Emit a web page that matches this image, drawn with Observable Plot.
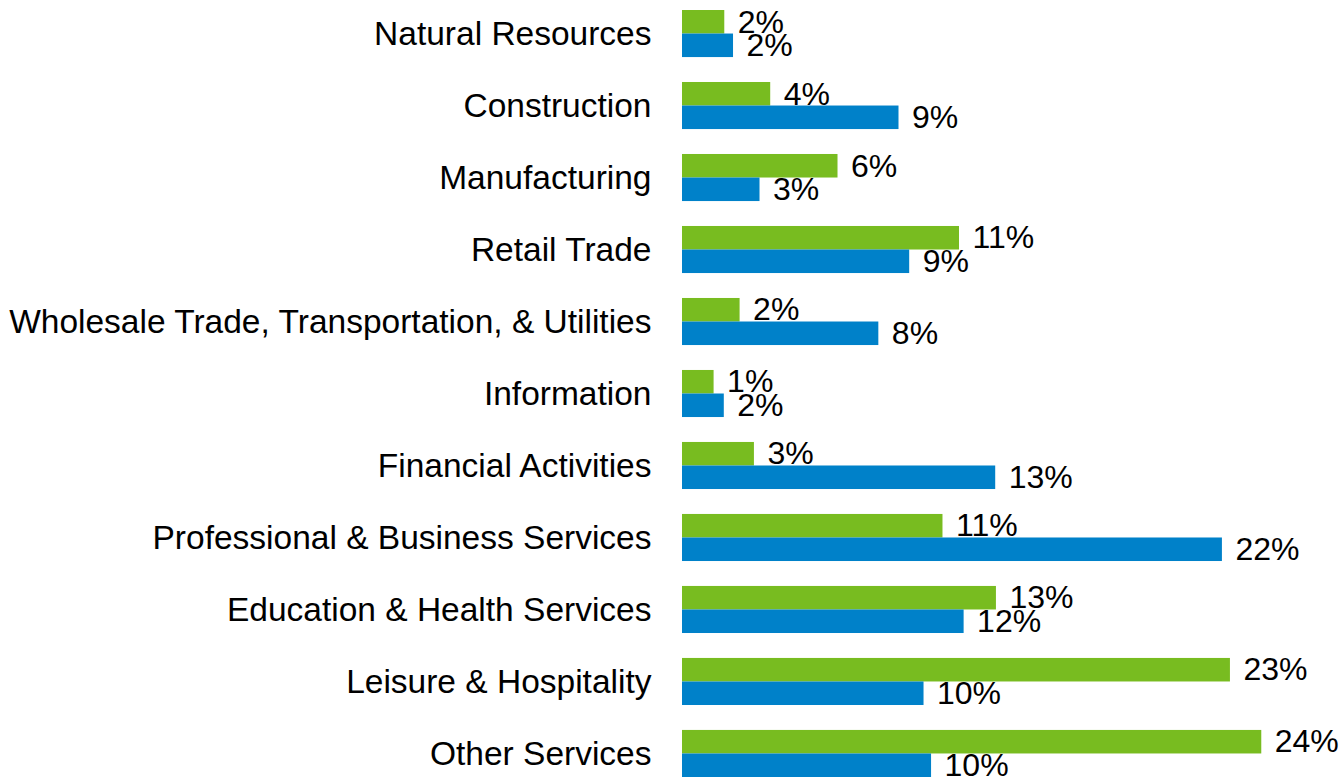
<!DOCTYPE html>
<html>
<head>
<meta charset="utf-8">
<script src="https://cdn.jsdelivr.net/npm/d3@7"></script>
<script src="https://cdn.jsdelivr.net/npm/@observablehq/plot@0.6"></script>
<style>
  html, body { margin: 0; padding: 0; background: #ffffff; }
  #chart svg { display: block; }
</style>
</head>
<body>
<div id="chart"></div>
<script>
const categories = [
  "Natural Resources",
  "Construction",
  "Manufacturing",
  "Retail Trade",
  "Wholesale Trade, Transportation, & Utilities",
  "Information",
  "Financial Activities",
  "Professional & Business Services",
  "Education & Health Services",
  "Leisure & Hospitality",
  "Other Services"
];
// green series (upper bar of each pair)
const greenShares = [0.0174, 0.0363, 0.0640, 0.1140, 0.0237, 0.0130, 0.0296, 0.1072, 0.1292, 0.2255, 0.2384];
// blue series (lower bar of each pair)
const blueShares  = [0.0210, 0.0891, 0.0319, 0.0935, 0.0808, 0.0172, 0.1289, 0.2222, 0.1159, 0.0994, 0.1025];

const greenColor = "#78bc20";
const blueColor = "#0081c9";
const fmt = d3.format(".0%");

const greenRows = categories.map((c, i) => ({category: c, value: greenShares[i]}));
const blueRows = categories.map((c, i) => ({category: c, value: blueShares[i]}));

const height = 778, marginTop = 10, marginBottom = 1;
const paddingInner = 0.3463;
const step = (height - marginTop - marginBottom) / (categories.length - paddingInner);
const half = step * (1 - paddingInner) / 2;

const chart = Plot.plot({
  width: 1340,
  height,
  marginLeft: 682,
  marginRight: 0,
  marginTop,
  marginBottom,
  style: {fontFamily: "Arial, 'Liberation Sans', sans-serif", fontSize: "33.5px", color: "#000", background: "#ffffff"},
  x: {domain: [0, 0.2708], axis: null},
  y: {domain: categories, paddingInner, paddingOuter: 0, round: false, tickSize: 0, tickPadding: 31, label: null},
  marks: [
    Plot.barX(greenRows, {x: "value", y: "category", fill: greenColor, insetBottom: half}),
    Plot.barX(blueRows, {x: "value", y: "category", fill: blueColor, insetTop: half}),
    Plot.text(greenRows, {x: "value", y: "category", text: d => fmt(d.value), dx: 13, dy: -half / 2, textAnchor: "start", fill: "#000", fontSize: 32}),
    Plot.text(blueRows, {x: "value", y: "category", text: d => fmt(d.value), dx: 13, dy: half / 2, textAnchor: "start", fill: "#000", fontSize: 32})
  ]
});
document.getElementById("chart").appendChild(chart);
</script>
</body>
</html>
